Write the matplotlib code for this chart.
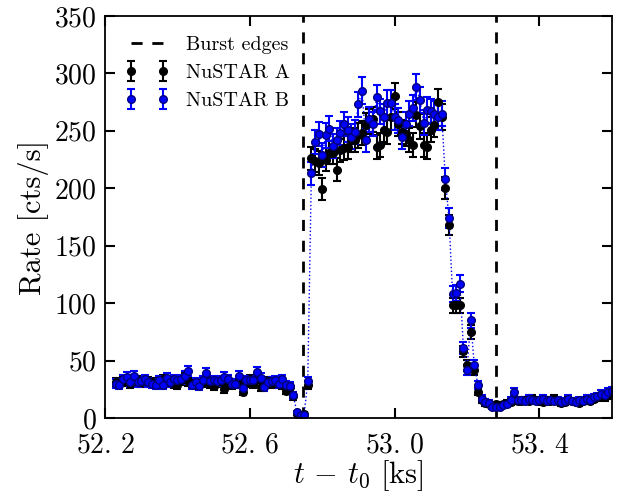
import numpy as np
import matplotlib
matplotlib.use('Agg')
import matplotlib.pyplot as plt

plt.rcParams['font.family'] = ['cmr10']
plt.rcParams['mathtext.fontset'] = 'cm'
plt.rcParams['axes.formatter.use_mathtext'] = True

# 10 s bins, first bin centre at 52.23 ks
t_start = 52.23
bin_ks = 0.01

rate_b = [30, 29, 34, 36, 31, 37, 31, 32, 34, 31,
          30, 29, 33, 29, 35, 31, 34, 33, 34, 37,
          41, 29, 31, 28, 33, 39, 32, 33, 32, 33,
          36, 34, 30, 30, 37, 26, 33, 33, 33, 40,
          35, 27, 31, 32, 33, 30, 34, 29,
          28, 20, 5, 3, 3, 32,
          213, 240, 247, 229, 246, 252, 237, 242, 248, 256,
          251, 245, 249, 273, 285, 242, 260, 256, 279, 267,
          262, 274, 274, 262, 259, 245, 256, 265, 270, 288,
          277, 257, 268, 267, 265, 262, 265,
          208, 174, 108, 109, 117, 61, 42, 85, 46, 29,
          17, 14, 13, 10, 10, 10, 11, 12, 16, 23, 16,
          16, 15, 17, 16, 15, 16, 17, 15, 16, 15,
          16, 14, 15, 17, 15, 14, 16, 15, 17, 16,
          18, 19, 21, 20, 23, 24]

rate_a = [31, 30, 32, 33, 30, 34, 33, 31, 33, 32,
          31, 30, 32, 34, 31, 32, 30, 29, 33, 35,
          32, 30, 29, 30, 31, 35, 30, 28, 31, 32,
          25, 31, 29, 30, 33, 23, 31, 34, 30, 35,
          27, 29, 32, 30, 31, 32, 29, 24,
          27, 19, 4, 3, 4, 29,
          226, 224, 222, 199, 225, 231, 231, 216, 233, 235,
          236, 242, 242, 246, 248, 255, 258, 260, 236, 238,
          251, 249, 262, 280, 256, 249, 247, 242, 238, 264,
          254, 238, 236, 251, 255, 275, 262,
          200, 168, 98, 98, 98, 58, 46, 75, 42, 23,
          16, 13, 12, 11, 12, 11, 12, 13, 14, 16, 15,
          15, 16, 15, 17, 16, 15, 14, 16, 15, 17,
          15, 13, 14, 16, 15, 14, 13, 15, 16, 15,
          17, 18, 19, 18, 20, 21]

burst_edges = [52.746, 53.281]
x_ticks = [52.2, 52.6, 53.0, 53.4]
x_ticklabels = [r'$52.\,2$', r'$52.\,6$', r'$53.\,0$', r'$53.\,4$']
y_ticks = [0, 50, 100, 150, 200, 250, 300, 350]

t = t_start + bin_ks * np.arange(len(rate_a))
rate_a = np.array(rate_a, dtype=float)
rate_b = np.array(rate_b, dtype=float)
# poisson errors, effective exposure per bin (deadtime corrected)
eff_exp = 2.2
err_a = np.sqrt(rate_a / eff_exp)
err_b = np.sqrt(rate_b / eff_exp)

fig = plt.figure(figsize=(6.25, 4.96), dpi=100)
ax = fig.add_axes([0.168, 0.157, 0.811, 0.811])

for i, edge in enumerate(burst_edges):
    ax.axvline(edge, color='k', ls='--', lw=2, dashes=(4, 3.5),
               label='Burst edges' if i == 0 else None)

ax.errorbar(t, rate_a, yerr=err_a, fmt='o', color='k', ms=5.5, mec='k',
            elinewidth=1.5, capsize=3, capthick=1.5, label='NuSTAR A')
ax.plot(t, rate_b, ':', color='b', lw=1)
ax.errorbar(t, rate_b, yerr=err_b, fmt='o', color='b', mfc='b', mec='#00007a',
            ms=5.5, elinewidth=1.5, capsize=3, capthick=1.5, label='NuSTAR B')

ax.set_xlim(52.2, 53.6)
ax.set_ylim(0, 350)
ax.set_xticks(x_ticks)
ax.set_xticklabels(x_ticklabels)
ax.set_yticks(y_ticks)
ax.tick_params(direction='in', length=7, width=1.5, labelsize=20,
               top=True, right=True, pad=6)
ax.tick_params(axis='x', pad=10)
for s in ax.spines.values():
    s.set_linewidth(1.3)

ax.set_xlabel(r'$t\,-\,t_0\ [\mathrm{ks}]$', fontsize=22, labelpad=0)
ax.set_ylabel('Rate [cts/s]', fontsize=22, labelpad=4)

ax.legend(loc='upper left', frameon=False, fontsize=14.5, numpoints=2,
          handlelength=2.2, borderaxespad=0.6)

fig.savefig('out.png', dpi=100)
